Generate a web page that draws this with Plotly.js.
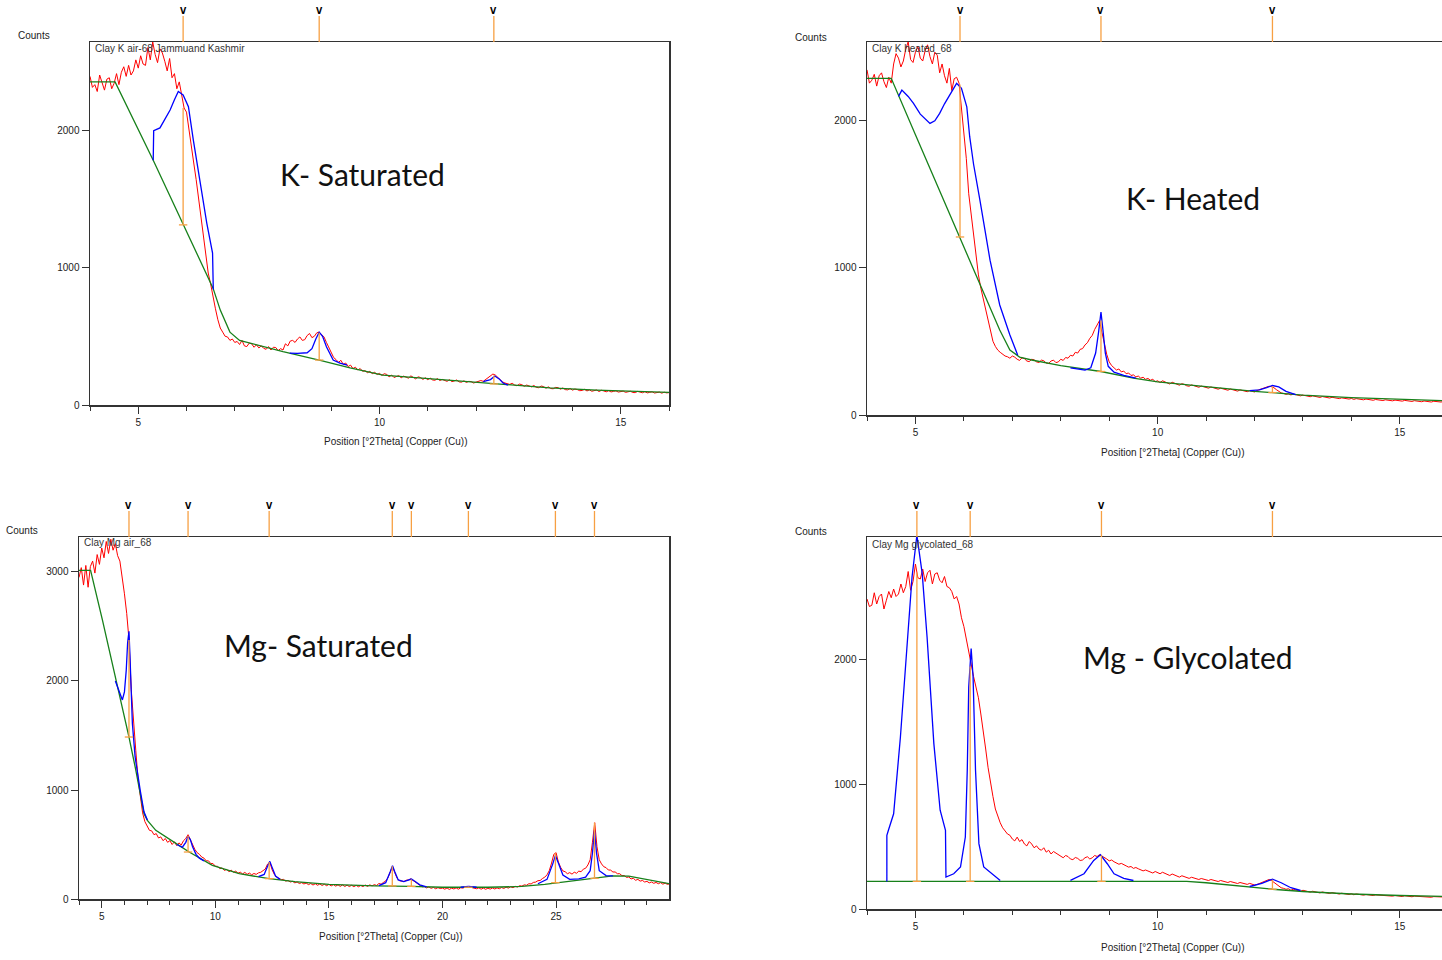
<!DOCTYPE html>
<html>
<head>
<meta charset="utf-8">
<script src="https://cdn.plot.ly/plotly-3.0.1.min.js"></script>
<style>html,body{margin:0;padding:0;background:#fff;}#chart{width:1442px;height:960px;}</style>
</head>
<body>
<div id="chart"></div>
<script>
// ---------------- DATA ----------------
// Panel 1: Clay K air-68 (K- Saturated), raw counts every 0.05 deg from 4.00
const kAirRed = [2390,2310,2330,2280,2400,2350,2290,2370,2380,2300,2340,
 2410,2330,2420,2460,2390,2470,2400,2430,2510,2450,
 2540,2480,2470,2600,2510,2640,2550,2490,2590,2560,
 2500,2430,2520,2380,2410,2300,2350,2260,
 2160,2130,2000,1850,1760,1640,1500,1380,1200,1090,960,880,780,700,620,560,530,500,495,470,
 480,455,462,440,470,430,425,450,445,420,438,415,
 430,412,405,425,400,420,418,395,410,400,
 445,430,465,470,455,480,495,470,475,505,520,490,500,525,
 530,510,495,455,420,390,
 345,330,310,325,295,305,280,290,265,275,
 255,265,245,250,235,245,228,238,222,230,
 215,228,222,205,218,200,206,214,198,210,203,195,212,201,190,205,200,186,198,184,
 196,182,180,192,178,186,176,172,184,170,175,182,168,166,176,164,172,170,160,165,
 170,178,172,185,195,210,225,218,200,180,168,160,155,150,
 158,145,140,152,148,136,145,139,132,142,128,126,138,134,122,132,120,118,128,126,115,124,112,110,120,108,
 116,112,104,106,114,102,110,100,104,109,98,107,102,96,104,95,99,103,94,96,
 101,92,96,100,91,90,99,94,89,97,88,92,96,87,90,94,86,93,88,90];
const kAirBgX = [4.0,4.52,5.31,5.93,6.28,6.55,6.7,6.9,7.1,7.32,8.0,8.75,9.39,10.07,10.8,11.46,12.39,13.53,14.5,15.2,16.0];
const kAirBgY = [2350,2350,1780,1310,1055,850,690,530,470,450,388,327,270,218,198,182,153,124,108,100,92];
const kAirFitX = [5.31,5.32,5.45,5.55,5.66,5.75,5.83,5.93,6.04,6.14,6.28,6.42,6.54,6.555,null,
 8.14,8.3,8.5,8.6,8.68,8.75,8.82,8.9,9.04,9.18,9.33,null,
 12.15,12.3,12.39,12.48,12.56,12.66];
const kAirFitY = [1780,1995,2015,2080,2145,2220,2280,2255,2170,1930,1615,1323,1105,840,null,
 378,375,380,410,480,530,500,424,327,305,290,null,
 170,185,211,190,160,145];
const kAirPeaks = [5.93,8.75,12.37];
const kAirPeakTop = [2160,525,215];
const kAirPeakBase = [1310,327,153];

// Panel 2: Clay K heated_68 (K- Heated), every 0.05 deg from 4.00
const kHeatRed = [2340,2250,2270,2310,2230,2300,2320,2260,2220,2290,2250,
 2380,2450,2420,2360,2400,2480,2530,2410,2390,2460,
 2500,2420,2400,2470,2510,2430,2380,2460,2440,2320,
 2380,2300,2250,2350,2200,2280,2290,2250,
 2080,1950,1740,1500,1360,1200,1060,950,860,790,700,630,560,500,465,440,425,410,400,395,
 385,400,392,378,370,388,382,366,362,378,374,360,
 356,372,368,352,350,366,372,355,360,378,
 370,390,385,405,400,425,420,445,450,475,490,520,540,580,
 610,640,560,480,410,360,
 335,320,305,312,292,298,280,285,268,272,
 258,264,250,256,242,248,236,242,226,232,
 220,232,226,215,210,222,216,205,202,212,208,198,195,204,200,192,188,196,192,185,
 182,190,186,178,175,182,178,172,168,176,172,165,162,170,166,160,158,165,162,156,
 166,172,176,184,190,195,192,185,172,160,150,146,140,144,
 136,142,138,132,130,135,132,126,124,130,127,121,119,125,122,117,115,120,118,113,111,116,114,110,108,112,
 106,111,109,104,103,108,106,101,100,105,104,99,98,103,102,97,96,101,100,95,
 94,99,98,93,92,97,96,91,90,95,94,89,88,93,92,87,88,91,87];
const kHeatBgX = [4.0,4.5,5.0,5.5,5.92,6.3,6.74,6.95,7.15,7.4,8.0,8.83,9.5,10.0,11.0,12.0,12.37,13.0,14.0,15.0,15.9];
const kHeatBgY = [2283,2283,1900,1520,1207,920,576,440,393,373,335,295,250,225,190,160,152,135,118,106,97];
const kHeatFitX = [4.65,4.72,4.85,4.96,5.1,5.3,5.4,5.5,5.6,5.71,5.85,5.95,6.06,6.12,6.2,6.33,6.54,6.74,6.95,7.11,null,
 8.2,8.5,8.62,8.72,8.78,8.83,8.87,8.92,8.98,9.1,9.3,9.55,null,
 11.9,12.1,12.25,12.37,12.5,12.65,12.85];
const kHeatFitY = [2160,2203,2160,2113,2040,1977,1995,2045,2110,2170,2249,2215,2090,1887,1700,1458,1050,746,542,407,null,
 320,305,320,420,560,698,580,420,330,290,268,250,null,
 165,170,185,200,190,160,138];
const kHeatPeaks = [5.92,8.83,12.37];
const kHeatPeakTop = [2240,640,195];
const kHeatPeakBase = [1207,295,152];

// Panel 3: Clay Mg air_68 (Mg- Saturated), every 0.1 deg from 4.0
const mgAirRed = [2950,3040,2880,3060,2860,3050,3100,2990,3160,3070,
 3220,3130,3280,3170,3300,3200,3260,3150,3100,2960,
 2800,2620,2380,1920,1600,1360,1100,950,790,710,
 670,630,625,590,600,560,570,535,555,520,
 535,500,525,490,515,495,535,555,590,545,
 485,455,425,410,385,375,350,350,325,325,
 300,300,278,285,262,272,250,266,244,256,
 236,246,230,244,226,238,222,234,226,240,
 245,258,275,320,338,268,225,200,192,178,
 180,164,170,156,162,148,156,142,150,138,
 146,132,142,128,140,126,138,124,135,122,
 134,120,132,118,130,116,129,115,127,114,
 126,113,125,112,124,114,128,115,130,120,
 132,124,142,136,152,165,195,250,300,240,
 192,168,162,160,172,175,185,170,160,138,
 128,112,114,102,110,98,106,94,104,96,
 100,90,101,88,99,92,102,90,103,100,
 110,112,115,104,102,94,102,90,100,89,
 99,91,101,92,102,94,105,97,108,100,
 112,104,116,110,122,118,130,126,140,138,
 152,155,168,170,188,200,222,260,330,410,
 425,340,290,258,250,232,242,228,246,236,
 256,250,274,282,312,360,520,700,480,360,
 322,296,288,266,265,248,248,232,232,214,
 215,198,202,184,190,172,180,164,170,156,
 162,148,156,144,152,140,150,136,146,134,
 140];
const mgAirBgX = [4.0,4.51,5.03,5.47,5.91,6.2,6.5,6.86,7.01,7.38,8.4,8.85,9.87,11.05,12.37,13.5,15,17,18.6,20,22,23.5,24.5,25.5,26.7,27.5,28.2,29,30];
const mgAirBgY = [3015,3015,2560,2160,1770,1486,1183,783,721,630,492,431,308,232,187,160,135,120,115,108,108,115,135,160,190,212,210,180,140];
const mgAirFitX = [5.6,5.75,5.91,6.0,6.08,6.14,6.2,6.24,6.28,6.35,6.47,6.57,6.7,6.86,7.01,null,
 8.3,8.55,8.7,8.8,8.9,9.0,9.15,9.3,9.5,null,
 11.9,12.15,12.3,12.4,12.5,12.65,12.85,null,
 17.2,17.5,17.7,17.8,17.9,18.05,18.3,18.5,18.63,18.8,19.0,19.3,null,
 20.8,21.14,21.5,null,
 24.2,24.6,24.85,24.97,25.1,25.3,25.6,26.0,26.3,26.5,26.6,26.69,26.78,26.9,27.2,27.5];
const mgAirFitY = [2000,1910,1826,1900,2100,2350,2456,2250,2037,1608,1303,1150,990,800,725,null,
 500,475,520,575,545,480,410,375,350,null,
 205,225,300,345,290,210,180,null,
 122,150,250,305,250,175,160,175,183,160,130,112,null,
 108,116,108,null,
 140,180,320,400,330,220,180,185,200,260,420,630,420,260,215,212];
const mgAirPeaks = [6.2,8.8,12.37,17.79,18.63,21.14,24.97,26.69];
const mgAirPeakTop = [2376,580,340,300,180,114,420,700];
const mgAirPeakBase = [1486,431,187,120,116,108,150,190];

// Panel 4: Clay Mg glycolated_68 (Mg - Glycolated), every 0.05 deg from 4.00
const mgGlyRed = [2480,2420,2430,2530,2440,2500,2520,2400,2470,2540,2490,
 2560,2500,2520,2600,2530,2580,2700,2550,2620,2760,
 2650,2640,2720,2620,2690,2710,2600,2680,2690,2630,
 2610,2660,2580,2570,2540,2480,2500,2440,
 2330,2260,2150,2060,1960,1860,1780,1690,1560,1400,1280,1130,1000,900,800,740,690,650,620,600,
 590,560,545,575,540,555,520,505,540,520,490,505,
 480,470,490,455,470,440,460,448,430,420,
 410,428,420,400,395,412,405,388,392,410,418,400,410,428,
 420,435,425,415,400,385,
 392,378,370,358,365,352,345,335,340,325,
 332,322,315,305,312,304,296,288,300,290,
 282,294,286,275,268,280,272,262,255,266,260,250,245,254,248,240,236,244,238,230,
 228,236,232,224,220,228,224,216,212,220,216,208,204,212,208,200,197,205,200,192,
 196,205,210,222,232,236,228,215,198,182,170,165,158,162,
 150,158,154,146,142,150,146,138,135,142,139,132,129,136,133,127,124,131,128,122,120,126,124,118,116,122,
 114,120,118,112,111,116,115,109,108,113,112,106,105,110,109,104,103,108,107,102,
 100,106,104,99,98,103,102,97,96,101,100,95,94,99,98,93,92,97,95];
const mgGlyBgX = [4.0,10.6,11.0,11.5,12.0,12.37,13.0,14.0,15.0,15.9];
const mgGlyBgY = [221,221,210,190,172,158,140,120,108,100];
const mgGlyFitX = [4.41,4.41,4.45,4.55,4.69,4.83,4.93,5.03,5.14,5.24,5.38,5.51,5.62,5.63,5.79,5.93,6.03,6.07,6.1,6.15,6.19,6.24,6.31,6.41,6.62,6.75,null,
 8.2,8.48,8.68,8.82,8.96,9.1,9.3,9.5,null,
 11.9,12.15,12.37,12.55,12.75,12.95];
const mgGlyFitY = [221,590,640,762,1376,2096,2656,2990,2683,2176,1323,790,630,256,282,336,576,1112,1776,2083,1856,1112,523,336,269,229,null,
 229,282,389,434,362,282,245,228,null,
 180,205,239,210,170,148];
const mgGlyPeaks = [5.03,6.13,8.84,12.37];
const mgGlyPeakTop = [2690,1940,430,235];
const mgGlyPeakBase = [221,221,221,158];

const sampleNames = ['Clay K air-68 Jammuand Kashmir','Clay K heated_68','Clay Mg air_68','Clay Mg glycolated_68'];
const panelLabels = ['K- Saturated','K- Heated','Mg- Saturated','Mg - Glycolated'];
const xTitle = 'Position [°2Theta] (Copper (Cu))';
const yTitle = 'Counts';

// ---------------- BUILD ----------------
const W = 1442, H = 960;
const px = v => v / W;
const py = v => 1 - v / H;
const RED = '#ff0000', BLUE = '#0000ff', GREEN = '#17801a', ORANGE = '#f7a043';

const panels = [
  {red: kAirRed, bgX: kAirBgX, bgY: kAirBgY, fitX: kAirFitX, fitY: kAirFitY, pk: kAirPeaks, top: kAirPeakTop, base: kAirPeakBase,
   dx: [90, 669], dy: [405, 42], xr: [4, 16], yr: [0, 2640], box: true, xt: [396, 441], ct: [34, 35], nm: [93, 48], lb: [362, 174], step: 0.05},
  {red: kHeatRed, bgX: kHeatBgX, bgY: kHeatBgY, fitX: kHeatFitX, fitY: kHeatFitY, pk: kHeatPeaks, top: kHeatPeakTop, base: kHeatPeakBase,
   dx: [867, 1442], dy: [415, 42], xr: [4, 15.87], yr: [0, 2529], box: false, xt: [1173, 452], ct: [811, 37], nm: [870, 49], lb: [1193, 198], step: 0.05},
  {red: mgAirRed, bgX: mgAirBgX, bgY: mgAirBgY, fitX: mgAirFitX, fitY: mgAirFitY, pk: mgAirPeaks, top: mgAirPeakTop, base: mgAirPeakBase,
   dx: [79, 669], dy: [899, 537], xr: [4, 29.97], yr: [0, 3321], box: true, xt: [391, 936], ct: [22, 530], nm: [82, 542], lb: [318, 645], step: 0.1},
  {red: mgGlyRed, bgX: mgGlyBgX, bgY: mgGlyBgY, fitX: mgGlyFitX, fitY: mgGlyFitY, pk: mgGlyPeaks, top: mgGlyPeakTop, base: mgGlyPeakBase,
   dx: [867, 1442], dy: [909, 537], xr: [4, 15.87], yr: [0, 2976], box: false, xt: [1173, 947], ct: [811, 531], nm: [870, 544], lb: [1188, 657], step: 0.05}
];

const traces = [];
const layout = {
  width: W, height: H, margin: {l: 0, r: 0, t: 0, b: 0},
  paper_bgcolor: '#fff', plot_bgcolor: '#fff', showlegend: false,
  font: {family: 'Liberation Sans, Arial, sans-serif', size: 10, color: '#222'},
  shapes: [], annotations: []
};

panels.forEach((p, i) => {
  const n = i === 0 ? '' : String(i + 1);
  const xa = 'x' + n, ya = 'y' + n;
  const redX = p.red.map((_, k) => +(4 + k * p.step).toFixed(2));
  traces.push({x: redX, y: p.red, xaxis: xa, yaxis: ya, type: 'scatter', mode: 'lines', line: {color: RED, width: 1}, hoverinfo: 'skip'});
  traces.push({x: p.bgX, y: p.bgY, xaxis: xa, yaxis: ya, type: 'scatter', mode: 'lines', line: {color: GREEN, width: 1.3}, hoverinfo: 'skip'});
  traces.push({x: p.fitX, y: p.fitY, xaxis: xa, yaxis: ya, type: 'scatter', mode: 'lines', connectgaps: false, line: {color: BLUE, width: 1.3}, hoverinfo: 'skip'});
  const sx = [], sy = [];
  p.pk.forEach((v, k) => { sx.push(v, v, null); sy.push(p.base[k], p.top[k], null); });
  traces.push({x: sx, y: sy, xaxis: xa, yaxis: ya, type: 'scatter', mode: 'lines', line: {color: ORANGE, width: 1.3}, hoverinfo: 'skip'});
  traces.push({x: p.pk, y: p.base, xaxis: xa, yaxis: ya, type: 'scatter', mode: 'markers',
    marker: {symbol: 'line-ew', size: 6, line: {color: ORANGE, width: 1.3}}, hoverinfo: 'skip'});

  const axisCommon = {showline: true, linecolor: '#333', linewidth: 1.5, ticks: 'outside', tickwidth: 1, tickcolor: '#333',
    showgrid: false, zeroline: false, tickfont: {family: 'Liberation Sans, Arial, sans-serif', size: 10, color: '#222'}};
  layout['xaxis' + n] = Object.assign({}, axisCommon, {
    domain: [px(p.dx[0]), px(p.dx[1])], range: p.xr, anchor: ya, mirror: true,
    tick0: 0, dtick: 5, ticklen: 7,
    minor: {dtick: 1, tick0: 0, ticks: 'outside', ticklen: 4, tickcolor: '#333', tickwidth: 1}
  });
  layout['yaxis' + n] = Object.assign({}, axisCommon, {
    domain: [py(p.dy[0]), py(p.dy[1])], range: p.yr, anchor: xa, mirror: p.box,
    tick0: 0, dtick: 1000, ticklen: 7
  });

  // peak markers above the frame
  p.pk.forEach(v => {
    layout.shapes.push({type: 'line', xref: xa, yref: 'paper', x0: v, x1: v, y0: py(p.dy[1]), y1: py(p.dy[1] - 26),
      line: {color: ORANGE, width: 1.3}, layer: 'above'});
    layout.annotations.push({xref: xa, yref: 'paper', x: v, y: py(p.dy[1] - 24), yanchor: 'bottom', xanchor: 'center',
      text: '<b>V</b>', showarrow: false, font: {family: 'DejaVu Sans Condensed, DejaVu Sans', size: 9, color: '#000'}});
  });

  layout.annotations.push({xref: 'paper', yref: 'paper', x: px(p.xt[0]), y: py(p.xt[1]), xanchor: 'center', yanchor: 'middle',
    text: xTitle, showarrow: false, font: {size: 10, color: '#222'}});
  layout.annotations.push({xref: 'paper', yref: 'paper', x: px(p.ct[0]), y: py(p.ct[1]), xanchor: 'center', yanchor: 'middle',
    text: yTitle, showarrow: false, font: {size: 10, color: '#222'}});
  layout.annotations.push({xref: 'paper', yref: 'paper', x: px(p.nm[0]), y: py(p.nm[1]), xanchor: 'left', yanchor: 'middle',
    text: sampleNames[i], showarrow: false, font: {size: 10, color: '#333'}});
  layout.annotations.push({xref: 'paper', yref: 'paper', x: px(p.lb[0]), y: py(p.lb[1]), xanchor: 'center', yanchor: 'middle',
    text: panelLabels[i], showarrow: false, font: {family: 'Lato, Open Sans, sans-serif', size: 30, color: '#111'}});
});

Plotly.newPlot('chart', traces, layout, {staticPlot: true, displayModeBar: false});
</script>
</body>
</html>
